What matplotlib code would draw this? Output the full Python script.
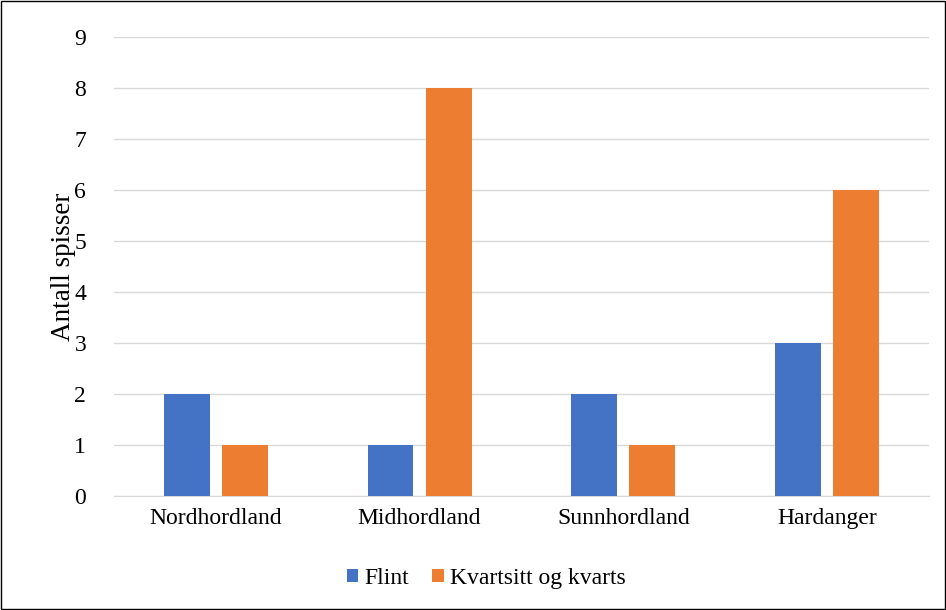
import matplotlib
matplotlib.use("Agg")
import matplotlib.pyplot as plt
import numpy as np

regions = ["Nordhordland", "Midhordland", "Sunnhordland", "Hardanger"]
flint = [2, 1, 2, 3]
kvarts = [1, 8, 1, 6]
series_names = ["Flint", "Kvartsitt og kvarts"]
yticks = list(range(0, 10))

plt.rcParams["font.family"] = ["Liberation Serif", "DejaVu Serif"]

fig = plt.figure(figsize=(9.46, 6.10), dpi=100)
ax = fig.add_axes([0.1205, 0.187, 0.8614, 0.752])

x = np.arange(len(regions))
w = 0.225
gap = 0.06
ax.bar(x - (w + gap) / 2, flint, width=w, color="#4472C4", label=series_names[0], zorder=3)
ax.bar(x + (w + gap) / 2, kvarts, width=w, color="#ED7D31", label=series_names[1], zorder=3)

ax.set_xlim(-0.5, len(regions) - 0.5)
ax.set_ylim(0, 9)
ax.set_yticks(yticks)
ax.set_xticks(x)
ax.set_xticklabels(regions)
ax.tick_params(axis="both", length=0, labelsize=17, colors="black")
ax.tick_params(axis="y", pad=20)
ax.tick_params(axis="x", pad=9)
ax.grid(axis="y", color="#D9D9D9", linewidth=1, zorder=0)
for s in ["top", "right", "left"]:
    ax.spines[s].set_visible(False)
ax.spines["bottom"].set_color("#D9D9D9")
ax.set_ylabel("Antall spisser", fontsize=19.5, labelpad=-1)

fig.legend(loc="center", bbox_to_anchor=(0.514, 0.052), ncol=2, frameon=False,
           fontsize=17, handlelength=0.5, handleheight=0.5, handletextpad=0.25,
           columnspacing=1.0)

border = plt.Rectangle((0.001, 0.001), 0.998, 0.998, transform=fig.transFigure,
                       fill=False, edgecolor="black", linewidth=1)
fig.patches.append(border)

fig.savefig("out.png", dpi=100)
